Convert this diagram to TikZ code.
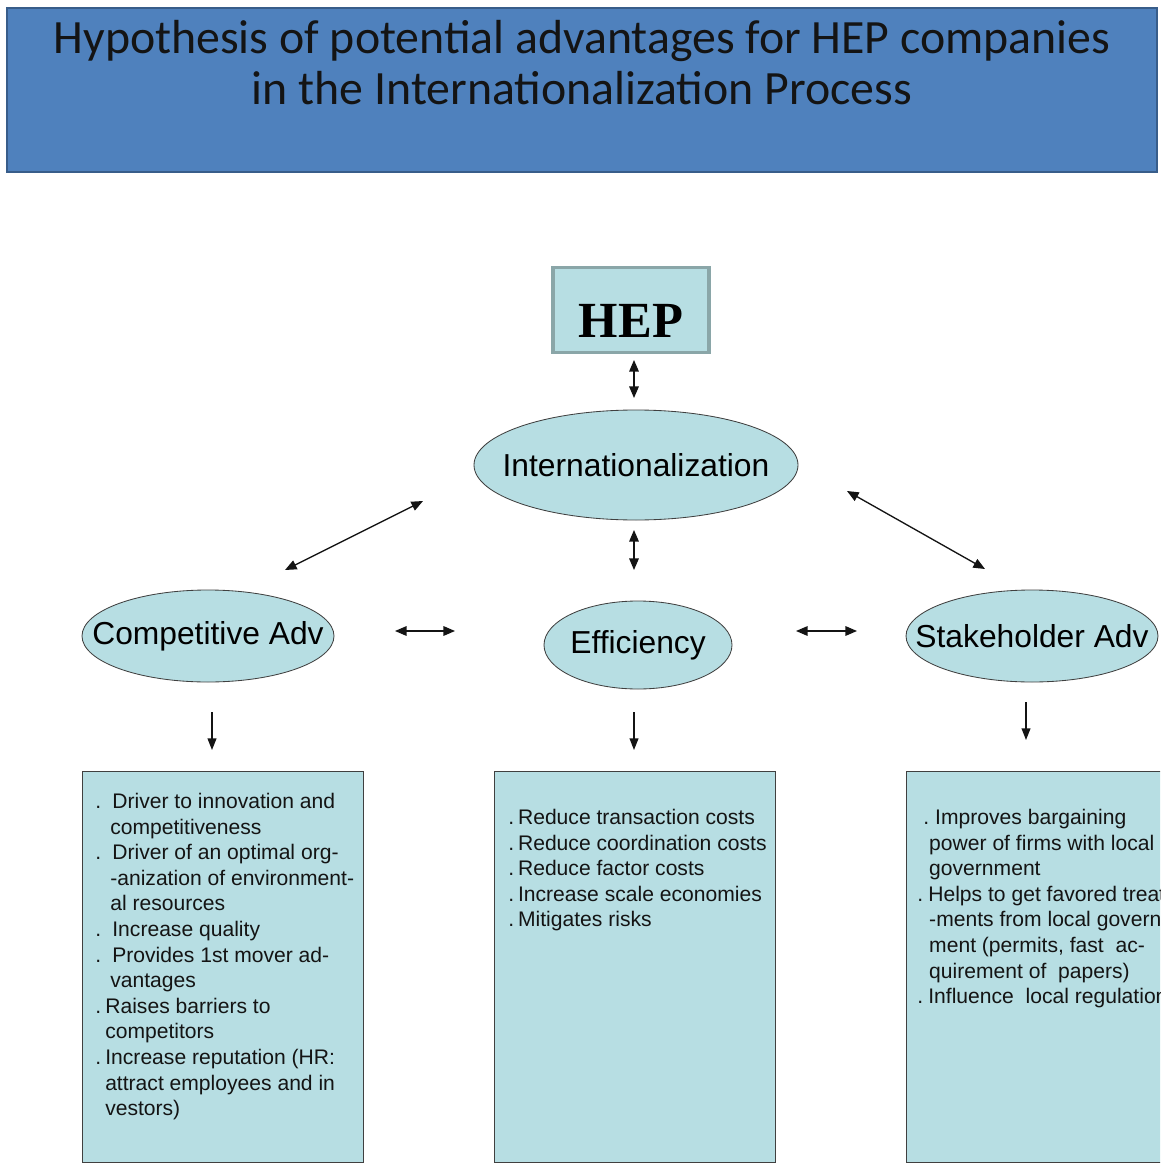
\documentclass[tikz,border=0pt]{standalone}
\usepackage{fontspec}
\setmainfont{Liberation Sans}
\newfontfamily\titlefont{Carlito}
\newfontfamily\hepfont{Liberation Serif}
\usetikzlibrary{arrows.meta,shapes.geometric}
\definecolor{titleblue}{RGB}{79,129,189}
\definecolor{titleedge}{RGB}{56,93,138}
\definecolor{paleteal}{RGB}{183,222,227}
\definecolor{hepedge}{RGB}{138,166,168}
\definecolor{edgegray}{RGB}{64,64,64}
\definecolor{inkblack}{RGB}{20,20,20}
\begin{document}
\begin{tikzpicture}
    \tikzstyle{bubble}=[ellipse,draw=edgegray,fill=paleteal,line width=0.6pt,inner xsep=-1cm,inner ysep=0pt,font=\fontsize{22.6}{27}\selectfont]
    \tikzstyle{listbox}=[rectangle,draw=edgegray,fill=paleteal,line width=0.8pt,anchor=north west,inner sep=0pt,minimum height=9.775cm]
    \tikzstyle{listtext}=[anchor=north west,align=left,inner sep=0pt,text=inkblack,font=\fontsize{15}{18.2}\selectfont]
    \tikzstyle{twoway}=[{Triangle[length=0.29cm,width=0.24cm]}-{Triangle[length=0.29cm,width=0.24cm]},line width=0.95pt,draw=inkblack]
    \tikzstyle{oneway}=[-{Triangle[length=0.29cm,width=0.22cm]},line width=0.95pt,draw=inkblack]
    \useasboundingbox (0,0) rectangle (29,-29.075);
    \clip (0,0) rectangle (29,-29.075);
    \node[rectangle,draw=titleedge,fill=titleblue,line width=2pt,minimum width=28.75cm,minimum height=4.1cm] (banner) at (14.55,-2.25) {};
    \node[anchor=north,align=center,inner sep=0pt,text=inkblack,font=\titlefont\fontsize{34}{36}\selectfont] (title) at (14.55,-0.5)
        {Hypothesis of potential advantages for HEP companies\\in the Internationalization Process};
    \node[rectangle,draw=hepedge,fill=paleteal,line width=2.2pt,minimum width=3.9cm,minimum height=2.125cm,text height=1.35cm,text depth=0cm,font=\hepfont\bfseries\fontsize{36}{40}\selectfont] (hep) at (15.775,-7.76) {HEP};
    \node[bubble,minimum width=8.1cm,minimum height=2.75cm] (intl) at (15.9,-11.625) {Internationalization};
    \begin{scope}
        \node[bubble,minimum width=6.3cm,minimum height=2.3cm] (compadv) at (5.2,-15.9) {Competitive Adv};
        \node[listbox,minimum width=7.025cm] (compbox) at (2.05,-19.275) {};
        \node[listtext] (comptext) at (2.375,-19.825) {%
            .\hspace*{8pt}Driver to innovation and\\
            \hspace*{10.7pt}competitiveness\\
            .\hspace*{8pt}Driver of an optimal org-\\
            \hspace*{10.7pt}-anization of environment-\\
            \hspace*{10.7pt}al resources\\
            .\hspace*{8pt}Increase quality\\
            .\hspace*{8pt}Provides 1st mover ad-\\
            \hspace*{10.7pt}vantages\\
            .\hspace*{3pt}Raises barriers to\\
            \hspace*{7.1pt}competitors\\
            .\hspace*{3pt}Increase reputation (HR:\\
            \hspace*{7.1pt}attract employees and in\\
            \hspace*{7.1pt}vestors)};
    \end{scope}
    \begin{scope}
        \node[bubble,minimum width=4.7cm,minimum height=2.2cm] (eff) at (15.95,-16.125) {Efficiency};
        \node[listbox,minimum width=7.025cm] (effbox) at (12.35,-19.275) {};
        \node[listtext] (efftext) at (12.7,-20.225) {%
            .\hspace*{2.8pt}Reduce transaction costs\\
            .\hspace*{2.8pt}Reduce coordination costs\\
            .\hspace*{2.8pt}Reduce factor costs\\
            .\hspace*{2.8pt}Increase scale economies\\
            .\hspace*{2.8pt}Mitigates risks};
    \end{scope}
    \begin{scope}
        \node[bubble,minimum width=6.3cm,minimum height=2.3cm] (stakeadv) at (25.8,-15.9) {Stakeholder Adv};
        \node[listbox,minimum width=7.1cm] (stakebox) at (22.65,-19.275) {};
        \node[listtext] (staketext) at (22.925,-20.225) {%
            \hspace*{4.3pt}.\hspace*{4.3pt}Improves bargaining\\
            \hspace*{8.5pt}power of firms with local\\
            \hspace*{8.5pt}government\\
            .\hspace*{3.7pt}Helps to get favored treat-\\
            \hspace*{8.5pt}-ments from local govern-\\
            \hspace*{8.5pt}ment (permits, fast\ \ ac-\\
            \hspace*{8.5pt}quirement of\ \ papers)\\
            .\hspace*{3.7pt}Influence\ \ local regulations};
    \end{scope}
    \coordinate (hepA) at (15.85,-9.0);
    \coordinate (hepB) at (15.85,-9.95);
    \coordinate (intA) at (15.85,-13.25);
    \coordinate (intB) at (15.85,-14.25);
    \coordinate (leftA) at (10.575,-12.525);
    \coordinate (leftB) at (7.125,-14.25);
    \coordinate (rightA) at (21.175,-12.275);
    \coordinate (rightB) at (24.625,-14.225);
    \coordinate (midLA) at (9.875,-15.775);
    \coordinate (midLB) at (11.375,-15.775);
    \coordinate (midRA) at (19.9,-15.775);
    \coordinate (midRB) at (21.425,-15.775);
    \coordinate (downLA) at (5.3,-17.8);
    \coordinate (downLB) at (5.3,-18.75);
    \coordinate (downMA) at (15.85,-17.8);
    \coordinate (downMB) at (15.85,-18.75);
    \coordinate (downRA) at (25.65,-17.55);
    \coordinate (downRB) at (25.65,-18.5);
    \draw[twoway] (hepA) -- (hepB);
    \draw[twoway] (intA) -- (intB);
    \draw[twoway] (leftA) -- (leftB);
    \draw[twoway] (rightA) -- (rightB);
    \draw[twoway] (midLA) -- (midLB);
    \draw[twoway] (midRA) -- (midRB);
    \draw[oneway] (downLA) -- (downLB);
    \draw[oneway] (downMA) -- (downMB);
    \draw[oneway] (downRA) -- (downRB);
\end{tikzpicture}
\end{document}
